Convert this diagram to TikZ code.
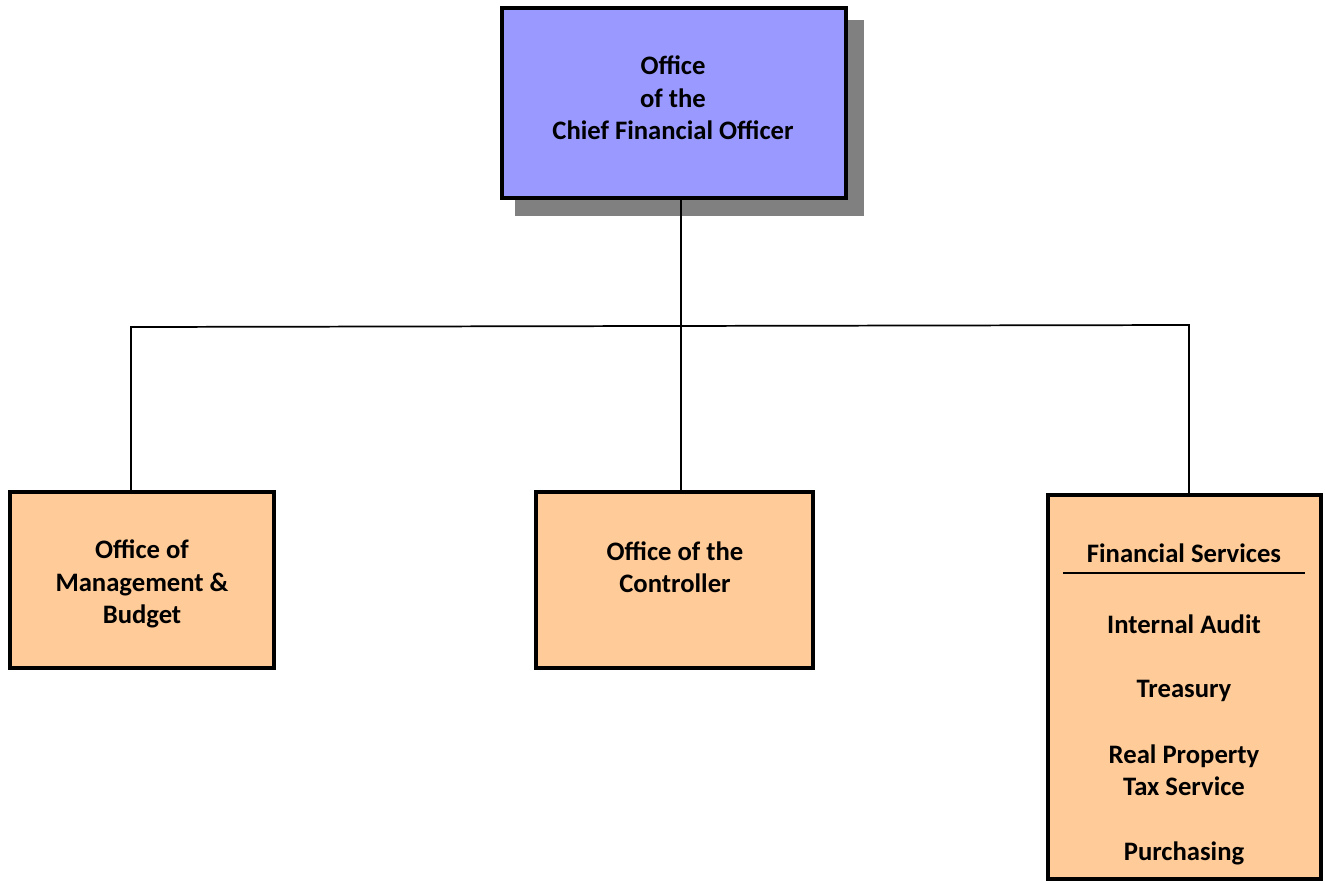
\documentclass[tikz,border=0pt]{standalone}
\usepackage{fontspec}
\setmainfont{Carlito}
\begin{document}
\begin{tikzpicture}[x=0.75pt,y=-0.75pt,
  lbl/.style={align=center,font=\bfseries\fontsize{20}{24.3}\selectfont,inner sep=0pt},
  conn/.style={line width=1.3pt,black}]
\useasboundingbox (0,0) rectangle (1325,883);
% shadow
\fill[black!50] (515,20) rectangle (864,216);
% boxes
\node[draw=black,line width=3pt,fill={rgb,255:red,153;green,153;blue,255},minimum width=344*0.75pt,minimum height=190*0.75pt,inner sep=0pt] (cfo) at (674,103) {};
\node[draw=black,line width=3pt,fill={rgb,255:red,255;green,204;blue,153},minimum width=264*0.75pt,minimum height=176*0.75pt,inner sep=0pt] (omb) at (142,580) {};
\node[draw=black,line width=3pt,fill={rgb,255:red,255;green,204;blue,153},minimum width=277*0.75pt,minimum height=176*0.75pt,inner sep=0pt] (ctrl) at (674.5,580) {};
\node[draw=black,line width=3pt,fill={rgb,255:red,255;green,204;blue,153},minimum width=273*0.75pt,minimum height=384*0.75pt,inner sep=0pt] (fs) at (1184.5,687) {};
% texts
\node[lbl] (tcfo) at (673,98) {Office\\of the\\Chief Financial Officer};
\node[lbl] (tomb) at (142,584) {Office of\\Management \&\\Budget};
\node[lbl] (tctrl) at (675,567) {Office of the\\Controller};
\node[lbl] (tfs) at (1184,553) {Financial Services};
\node[lbl] (tia) at (1184,624) {Internal Audit};
\node[lbl] (ttr) at (1184,691) {Treasury};
\node[lbl] (trp) at (1184,770) {Real Property\\Tax Service};
\node[lbl] (tpu) at (1184,853) {Purchasing};
\coordinate (ulA) at (1063,573);
\coordinate (ulB) at (1305,573);
\draw[line width=1.3pt] (ulA) -- (ulB);
% connectors
\coordinate (L) at (131,327);
\coordinate (R) at (1189,325);
\draw[conn] (cfo.south -| 681,0) -- (ctrl.north -| 681,0);
\draw[conn] (omb.north -| L) -- (L) -- (R) -- (fs.north -| R);
\end{tikzpicture}
\end{document}
